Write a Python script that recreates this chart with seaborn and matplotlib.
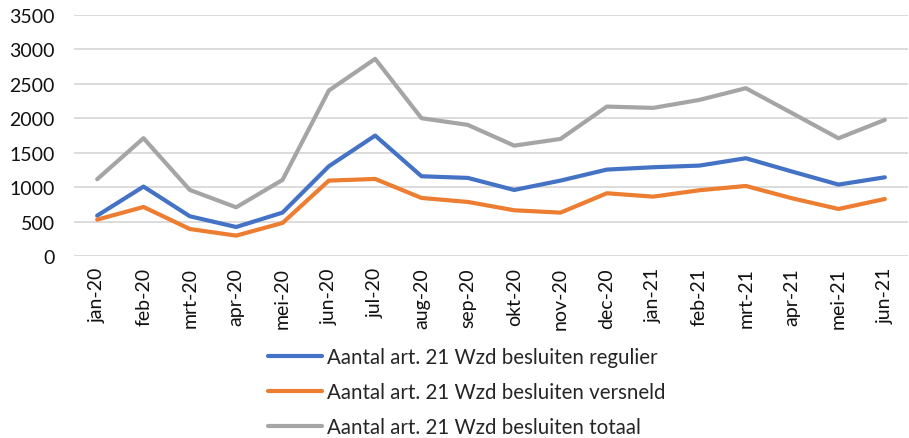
import matplotlib
matplotlib.use("Agg")
import matplotlib.pyplot as plt
import seaborn as sns
import pandas as pd

months = ["jan-20", "feb-20", "mrt-20", "apr-20", "mei-20", "jun-20", "jul-20", "aug-20",
          "sep-20", "okt-20", "nov-20", "dec-20", "jan-21", "feb-21", "mrt-21", "apr-21",
          "mei-21", "jun-21"]
regulier = [586, 1008, 577, 421, 630, 1303, 1749, 1158, 1134, 959, 1095, 1255, 1289, 1313, 1420, 1226, 1037, 1143]
versneld = [528, 712, 392, 296, 480, 1095, 1119, 843, 785, 664, 630, 911, 862, 955, 1017, 838, 683, 828]
totaal = [1115, 1711, 959, 707, 1105, 2403, 2863, 2001, 1904, 1603, 1700, 2170, 2151, 2267, 2437, 2074, 1710, 1977]
series_names = ["Aantal art. 21 Wzd besluiten regulier",
                "Aantal art. 21 Wzd besluiten versneld",
                "Aantal art. 21 Wzd besluiten totaal"]
yticks = [0, 500, 1000, 1500, 2000, 2500, 3000, 3500]

rows = []
for name, vals in zip(series_names, [regulier, versneld, totaal]):
    for m, v in zip(months, vals):
        rows.append({"maand": m, "waarde": v, "serie": name})
df = pd.DataFrame(rows)

sns.set_theme(style="white")
plt.rcParams["font.family"] = ["Lato", "DejaVu Sans"]

FS = 14
TXT = "#111111"

fig = plt.figure(figsize=(9.09, 4.39), dpi=100)
ax = fig.add_axes([74 / 909, 1 - 257 / 439, 834 / 909, (257 - 16) / 439])

palette = {series_names[0]: "#4472C4", series_names[1]: "#ED7D31", series_names[2]: "#A5A5A5"}
sns.lineplot(data=df, x="maand", y="waarde", hue="serie", palette=palette,
             linewidth=3.0, sort=False, ax=ax, legend=True)

ax.set_xlim(-0.5, len(months) - 0.5)
ax.set_ylim(0, 3500)
ax.set_yticks(yticks)
ax.set_yticklabels([str(t) for t in yticks], fontsize=FS, color=TXT)
ax.set_xticks(range(len(months)))
ax.set_xticklabels(months, rotation=90, fontsize=FS, color=TXT)
ax.set_xlabel("")
ax.set_ylabel("")
ax.grid(axis="y", color="#D9D9D9", linewidth=1.3)
ax.set_axisbelow(True)
for s in ax.spines.values():
    s.set_visible(False)
ax.tick_params(axis="x", length=0, pad=8)
ax.tick_params(axis="y", length=0, pad=14)

handles, labels = ax.get_legend_handles_labels()
ax.get_legend().remove()
for h in handles:
    h.set_linewidth(3.0)
fig.legend(handles, labels, loc="center", bbox_to_anchor=(467 / 909, 1 - 393 / 439),
           frameon=False, fontsize=14.8, handlelength=2.6, handletextpad=0.25,
           labelspacing=0.72, borderpad=0)

fig.savefig("out.png", dpi=100)
